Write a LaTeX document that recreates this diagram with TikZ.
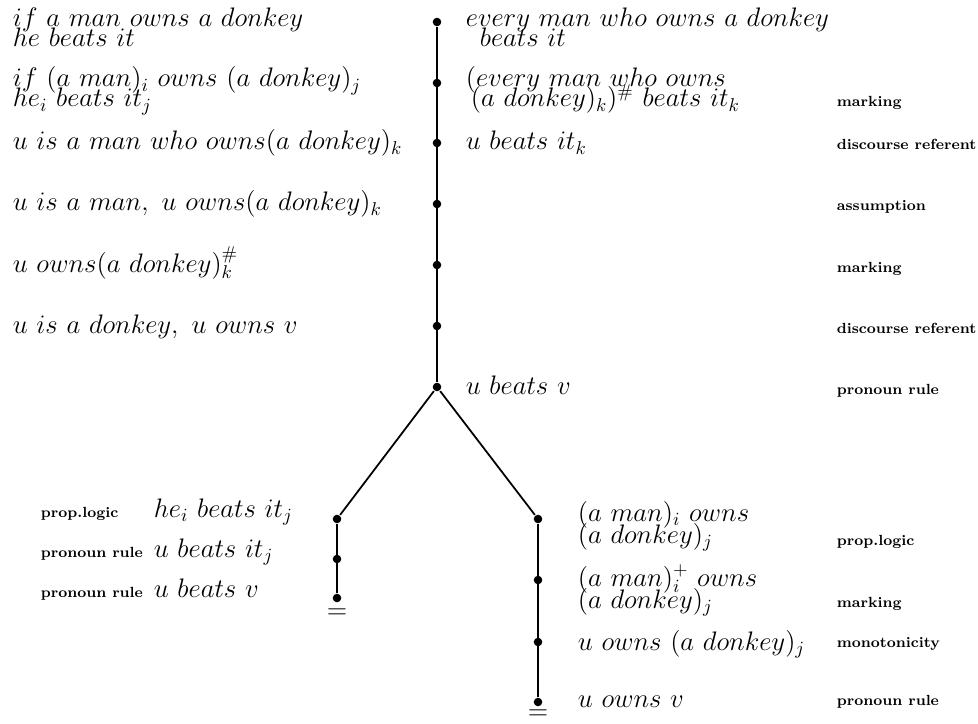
\documentclass[tikz,border=0pt]{standalone}
\begin{document}
\begin{tikzpicture}[
            x=0.538pt, y=-0.538pt,
            line width=0.95pt,
            vertex/.style={
                circle,
                fill,
                minimum size=4.6pt,
                inner sep=0pt
            },
            formula/.style={
                anchor=base west,
                inner sep=0pt,
                font=\fontsize{14.4}{10}\selectfont
            },
            rulename/.style={
                anchor=base west,
                inner sep=0pt,
                font=\fontsize{7.9}{9}\selectfont\bfseries
            }
        ]
            \useasboundingbox (0, 0) rectangle (978, 724);

            \node[vertex] (m1) at (437, 22) {};
            \node[vertex] (m2) at (437, 83) {};
            \node[vertex] (m3) at (437, 143) {};
            \node[vertex] (m4) at (437, 204) {};
            \node[vertex] (m5) at (437, 265) {};
            \node[vertex] (m6) at (437, 326) {};
            \node[vertex] (m7) at (437, 387) {};

            \node[vertex] (l1) at (337, 519) {};
            \node[vertex] (l2) at (337, 559) {};
            \node[vertex] (l3) at (337, 598) {};
            \node[font=\fontsize{14.4}{10}\selectfont, inner sep=0pt] (leq) at (337, 614) {\(=\)};

            \node[vertex] (r1) at (538, 519) {};
            \node[vertex] (r2) at (538, 580) {};
            \node[vertex] (r3) at (538, 642) {};
            \node[vertex] (r4) at (538, 702) {};
            \node[font=\fontsize{14.4}{10}\selectfont, inner sep=0pt] (req) at (538, 715) {\(=\)};

            \draw (m1) -- (m7);
            \draw (m7) -- (l1);
            \draw (m7) -- (r1);
            \draw (l1) -- (l3);
            \draw (r1) -- (r4);

            % left column
            \node[formula] (a1) at (12, 27) {\(if\ a\ man\ owns\ a\ donkey\)};
            \node[formula] (a2) at (12, 47) {\(he\ beats\ it\)};
            \node[formula] (b1) at (12, 87) {\(if\ (a\ man)_i\ owns\ (a\ donkey)_j\)};
            \node[formula] (b2) at (12, 107) {\(he_i\ beats\ it_j\)};
            \node[formula] (c1) at (12, 150) {\(u\ is\ a\ man\ who\ owns(a\ donkey)_k\)};
            \node[formula] (d1) at (12, 211) {\(u\ is\ a\ man,\ u\ owns(a\ donkey)_k\)};
            \node[formula] (e1) at (12, 272) {\(u\ owns(a\ donkey)^{\#}_k\)};
            \node[formula] (f1) at (12, 333) {\(u\ is\ a\ donkey,\ u\ owns\ v\)};

            % right column
            \node[formula] (p1) at (465, 27) {\(every\ man\ who\ owns\ a\ donkey\)};
            \node[formula] (p2) at (479, 47) {\(beats\ it\)};
            \node[formula] (q1) at (465, 87) {\((every\ man\ who\ owns\)};
            \node[formula] (q2) at (470, 107) {\((a\ donkey)_k)^{\#}\ beats\ it_k\)};
            \node[formula] (s1) at (465, 150) {\(u\ beats\ it_k\)};
            \node[formula] (t1) at (465, 394) {\(u\ beats\ v\)};

            \node[rulename] (q3) at (836, 107) {marking};
            \node[rulename] (s2) at (836, 150) {discourse referent};
            \node[rulename] (d2) at (836, 211) {assumption};
            \node[rulename] (e2) at (836, 272) {marking};
            \node[rulename] (f2) at (836, 333) {discourse referent};
            \node[rulename] (t2) at (836, 394) {pronoun rule};

            % left branch
            \node[formula] (g1) at (153, 517) {\(he_i\ beats\ it_j\)};
            \node[formula] (h1) at (153, 557) {\(u\ beats\ it_j\)};
            \node[formula] (k1) at (153, 597) {\(u\ beats\ v\)};
            \node[rulename] (g2) at (40, 517) {prop.logic};
            \node[rulename] (h2) at (40, 557) {pronoun rule};
            \node[rulename] (k2) at (40, 597) {pronoun rule};

            % right branch
            \node[formula] (n1) at (577, 521) {\((a\ man)_i\ owns\)};
            \node[formula] (n2) at (577, 543) {\((a\ donkey)_j\)};
            \node[formula] (o1) at (577, 586) {\((a\ man)^{+}_i\ owns\)};
            \node[formula] (o2) at (577, 608) {\((a\ donkey)_j\)};
            \node[formula] (w1) at (577, 650) {\(u\ owns\ (a\ donkey)_j\)};
            \node[formula] (z1) at (577, 707) {\(u\ owns\ v\)};
            \node[rulename] (n3) at (836, 545) {prop.logic};
            \node[rulename] (o3) at (836, 607) {marking};
            \node[rulename] (w2) at (836, 647) {monotonicity};
            \node[rulename] (z2) at (836, 705) {pronoun rule};

        \end{tikzpicture}
\end{document}
